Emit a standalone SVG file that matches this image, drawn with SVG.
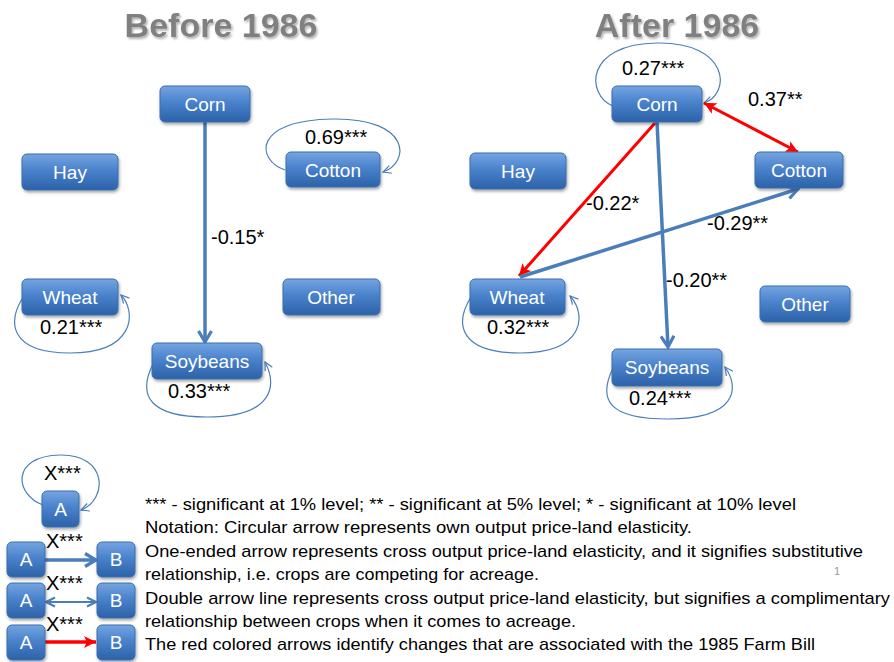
<svg xmlns="http://www.w3.org/2000/svg" width="894" height="662" viewBox="0 0 894 662">
<defs>
<linearGradient id="nodeGrad" x1="0" y1="0" x2="0" y2="1">
<stop offset="0" stop-color="#75a5e0"/>
<stop offset="0.45" stop-color="#4a82cc"/>
<stop offset="1" stop-color="#2c62a8"/>
</linearGradient>
<filter id="shadow" x="-20%" y="-20%" width="140%" height="150%">
<feDropShadow dx="1" dy="2" stdDeviation="1.5" flood-color="#000" flood-opacity="0.35"/>
</filter>
<filter id="tshadow" x="-10%" y="-20%" width="120%" height="150%">
<feDropShadow dx="1.5" dy="2" stdDeviation="1.2" flood-color="#000" flood-opacity="0.3"/>
</filter>
<marker id="blueHead" viewBox="0 0 16 16" refX="14" refY="8" markerWidth="16" markerHeight="16" markerUnits="userSpaceOnUse" orient="auto">
<path d="M3,1.5 L14,8 L3,14.5" fill="none" stroke="#4a7ebb" stroke-width="3.2" stroke-linejoin="miter"/>
</marker>
<marker id="blueHeadSm" viewBox="0 0 12 12" refX="11" refY="6" markerWidth="12" markerHeight="12" markerUnits="userSpaceOnUse" orient="auto-start-reverse">
<path d="M2,1.5 L11,6 L2,10.5" fill="none" stroke="#4a7ebb" stroke-width="2.2"/>
</marker>
<marker id="redHead" viewBox="0 0 14 14" refX="13" refY="7" markerWidth="14" markerHeight="14" markerUnits="userSpaceOnUse" orient="auto-start-reverse">
<path d="M1,1 L13,7 L1,13 L4,7 z" fill="#ff0000"/>
</marker>
<marker id="loopHead" viewBox="0 0 10 10" refX="9" refY="5" markerWidth="10" markerHeight="10" markerUnits="userSpaceOnUse" orient="auto">
<path d="M1,1 L9,5 L1,9" fill="none" stroke="#4a7ebb" stroke-width="1.2"/>
</marker>
</defs>
<style>
.node rect{fill:url(#nodeGrad);stroke:#3b6eaf;stroke-width:1;filter:url(#shadow)}
.node text{fill:#ffffff;font-family:"Liberation Sans",Arial,sans-serif;font-size:19px;text-anchor:middle}
.lbl{fill:#000;font-family:"Liberation Sans",Arial,sans-serif;font-size:20px}
.title{fill:#808080;font-family:"Liberation Sans",Arial,sans-serif;font-size:34px;font-weight:bold;text-anchor:middle;filter:url(#tshadow)}
.loop{fill:none;stroke:#4a7ebb;stroke-width:1.2;marker-end:url(#loopHead)}
.blue{fill:none;stroke:#4a7ebb;stroke-width:3.5;marker-end:url(#blueHead)}
.red{fill:none;stroke:#ff0000;stroke-width:3}
.note{fill:#000;font-family:"Liberation Sans",Arial,sans-serif;font-size:17px}
</style>
<rect width="894" height="662" fill="#ffffff"/>

<text class="title" x="221" y="37">Before 1986</text>
<text class="title" x="677" y="37">After 1986</text>

<g id="connectors">
<path class="blue" d="M205,122 L205,342"/>
<path class="loop" d="M285,170 C256,160 252,120 333,119 C412,118 410,163 383,172"/>
<path class="loop" d="M24,296 C6,322 10,353 70,353 C135,353 137,312 121,295"/>
<path class="loop" d="M153,364 C137,396 150,417 207,417 C274,417 277,385 265,362"/>
<path class="loop" d="M613,106 C586,95 584,44 657,43 C730,42 731,94 704,103"/>
<path class="loop" d="M471,297 C453,326 462,353 520,353 C585,353 587,314 570,296"/>
<path class="loop" d="M613,368 C597,401 610,419 668,419 C737,419 740,388 725,367"/>
<path class="red" d="M655,123 L519,276" marker-end="url(#redHead)"/>
<path class="red" d="M704,103 L798,152" marker-start="url(#redHead)" marker-end="url(#redHead)"/>
<path class="blue" d="M657,122 L668,347" stroke-width="3"/>
<path class="blue" d="M520,277 L798,189" stroke-width="3"/>
</g>

<g id="edge-labels">
<text class="lbl" x="211" y="244">-0.15*</text>
<text class="lbl" x="305" y="144">0.69***</text>
<text class="lbl" x="40" y="334">0.21***</text>
<text class="lbl" x="168" y="398">0.33***</text>
<text class="lbl" x="622" y="75">0.27***</text>
<text class="lbl" x="748" y="106">0.37**</text>
<text class="lbl" x="586" y="210">-0.22*</text>
<text class="lbl" x="707" y="230">-0.29**</text>
<text class="lbl" x="666" y="287">-0.20**</text>
<text class="lbl" x="487" y="334">0.32***</text>
<text class="lbl" x="629" y="405">0.24***</text>
</g>

<g id="before-corn" class="node"><rect x="160" y="86" width="90" height="36" rx="5"/><text x="205" y="111">Corn</text></g>
<g id="before-hay" class="node"><rect x="22" y="154" width="96" height="36" rx="5"/><text x="70" y="179">Hay</text></g>
<g id="before-cotton" class="node"><rect x="286" y="152" width="94" height="35" rx="5"/><text x="333" y="177">Cotton</text></g>
<g id="before-wheat" class="node"><rect x="22" y="279" width="96" height="36" rx="5"/><text x="70" y="304">Wheat</text></g>
<g id="before-other" class="node"><rect x="283" y="279" width="97" height="36" rx="5"/><text x="331" y="304">Other</text></g>
<g id="before-soybeans" class="node"><rect x="152" y="343" width="110" height="36" rx="5"/><text x="207" y="368">Soybeans</text></g>

<g id="after-corn" class="node"><rect x="612" y="86" width="90" height="36" rx="5"/><text x="657" y="111">Corn</text></g>
<g id="after-hay" class="node"><rect x="470" y="153" width="96" height="36" rx="5"/><text x="518" y="178">Hay</text></g>
<g id="after-cotton" class="node"><rect x="755" y="152" width="88" height="36" rx="5"/><text x="799" y="177">Cotton</text></g>
<g id="after-wheat" class="node"><rect x="470" y="279" width="95" height="36" rx="5"/><text x="517" y="304">Wheat</text></g>
<g id="after-other" class="node"><rect x="760" y="286" width="90" height="36" rx="5"/><text x="805" y="311">Other</text></g>
<g id="after-soybeans" class="node"><rect x="612" y="349" width="110" height="37" rx="5"/><text x="667" y="374">Soybeans</text></g>

<g id="legend">
<path class="loop" d="M43,505 C15,495 10,456 60,455 C108,454 108,500 81,510"/>
<text class="lbl" x="44" y="480">X***</text>
<g id="legend-a0" class="node"><rect x="42" y="491" width="37" height="36" rx="5"/><text x="60.5" y="516">A</text></g>

<line x1="45" y1="560" x2="96" y2="560" stroke="#4a7ebb" stroke-width="3.5" marker-end="url(#blueHead)"/>
<text class="lbl" x="46" y="548">X***</text>
<g id="legend-a1" class="node"><rect x="7" y="542" width="38" height="35" rx="5"/><text x="26" y="566">A</text></g>
<g id="legend-b1" class="node"><rect x="97" y="542" width="38" height="35" rx="5"/><text x="116" y="566">B</text></g>

<line x1="46" y1="602" x2="96" y2="602" stroke="#4a7ebb" stroke-width="2.2" marker-start="url(#blueHeadSm)" marker-end="url(#blueHeadSm)"/>
<text class="lbl" x="46" y="590">X***</text>
<g id="legend-a2" class="node"><rect x="7" y="583" width="38" height="35" rx="5"/><text x="26" y="607">A</text></g>
<g id="legend-b2" class="node"><rect x="97" y="583" width="38" height="35" rx="5"/><text x="116" y="607">B</text></g>

<line x1="45" y1="642" x2="96" y2="642" stroke="#ff0000" stroke-width="3.5" marker-end="url(#redHead)"/>
<text class="lbl" x="46" y="631">X***</text>
<g id="legend-a3" class="node"><rect x="7" y="625" width="38" height="35" rx="5"/><text x="26" y="649">A</text></g>
<g id="legend-b3" class="node"><rect x="97" y="625" width="38" height="35" rx="5"/><text x="116" y="649">B</text></g>
</g>

<g id="notes">
<text class="note" x="145" y="510" textLength="651" lengthAdjust="spacingAndGlyphs">*** - significant at 1% level; ** - significant at 5% level; * - significant at 10% level</text>
<text class="note" x="145" y="533" textLength="547" lengthAdjust="spacingAndGlyphs">Notation: Circular arrow represents own output price-land elasticity.</text>
<text class="note" x="145" y="557" textLength="718" lengthAdjust="spacingAndGlyphs">One-ended arrow represents cross output price-land elasticity, and it signifies substitutive</text>
<text class="note" x="145" y="580" textLength="394" lengthAdjust="spacingAndGlyphs">relationship, i.e. crops are competing for acreage.</text>
<text class="note" x="145" y="604" textLength="745" lengthAdjust="spacingAndGlyphs">Double arrow line represents cross output price-land elasticity, but signifies a complimentary</text>
<text class="note" x="145" y="627" textLength="431" lengthAdjust="spacingAndGlyphs">relationship between crops when it comes to acreage.</text>
<text class="note" x="145" y="650" textLength="670" lengthAdjust="spacingAndGlyphs">The red colored arrows identify changes that are associated with the 1985 Farm Bill</text>
<text x="834" y="575" fill="#999" font-family="Liberation Sans, Arial, sans-serif" font-size="11">1</text>
</g>
</svg>
